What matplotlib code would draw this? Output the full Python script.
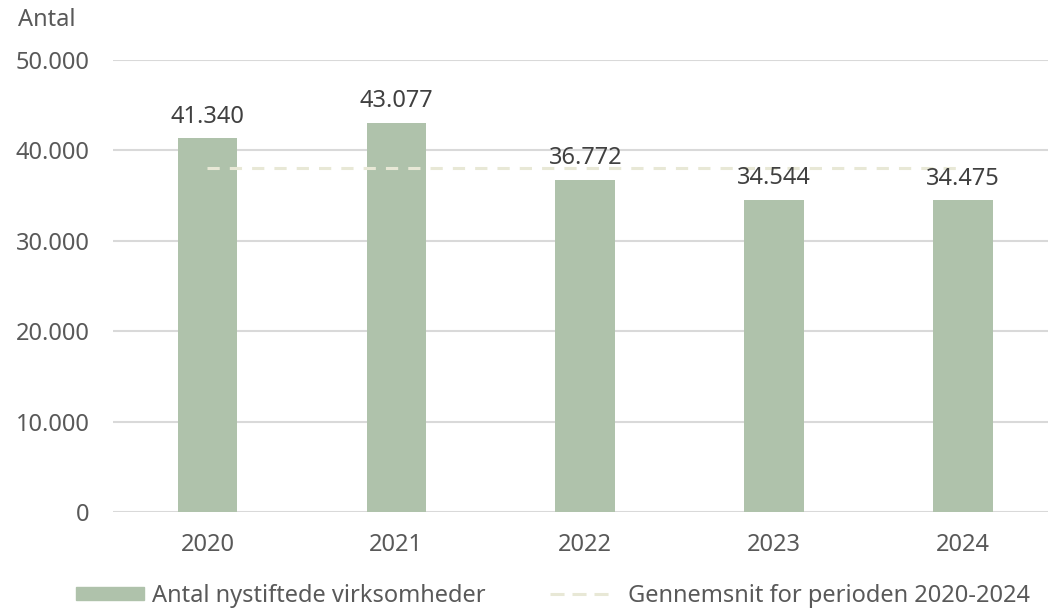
import matplotlib.pyplot as plt
from matplotlib.patches import Patch
from matplotlib.lines import Line2D

plt.rcParams['font.family'] = ['Noto Sans', 'DejaVu Sans']
plt.rcParams['font.weight'] = 'light'

# --- Data ---
years = ['2020', '2021', '2022', '2023', '2024']
counts = [41340, 43077, 36772, 34544, 34475]
average = 38041.6
yticks = [0, 10000, 20000, 30000, 40000, 50000]

BAR_COLOR = '#afc2ab'
AVG_COLOR = '#e8e8d6'
GRID_COLOR = '#d9d9d9'
TEXT_COLOR = '#595959'
LABEL_COLOR = '#404040'
FS = 17


def fmt(v):
    return f"{v:,.0f}".replace(',', '.')


fig = plt.figure(figsize=(10.48, 6.08), dpi=100)
ax = fig.add_axes([113 / 1048, (608 - 512) / 608, (1057.5 - 113) / 1048, (512 - 60) / 608])

x = list(range(len(years)))
bars = ax.bar(x, counts, width=0.315, color=BAR_COLOR, zorder=2)
ax.plot([x[0], x[-1]], [average, average], color=AVG_COLOR, lw=2.2,
        dashes=(4, 3.3), zorder=3)

for rect, v in zip(bars, counts):
    ax.annotate(fmt(v), xy=(rect.get_x() + rect.get_width() / 2, rect.get_height()),
                xytext=(0, 7), textcoords='offset points', ha='center', va='bottom',
                fontsize=FS, color=LABEL_COLOR, zorder=4)

ax.set_xlim(-0.5, 4.5)
ax.set_ylim(0, 50000)
ax.set_yticks(yticks)
ax.set_yticklabels([fmt(t) for t in yticks])
ax.set_xticks(x)
ax.set_xticklabels(years)
ax.tick_params(axis='both', length=0, labelsize=FS, labelcolor=TEXT_COLOR)
ax.tick_params(axis='y', pad=17)
ax.tick_params(axis='x', pad=15)
ax.grid(axis='y', color=GRID_COLOR, lw=1.5, zorder=0)
for s in ax.spines.values():
    s.set_visible(False)

fig.text(18 / 1048, 1 - 20 / 608, 'Antal', fontsize=FS, color=TEXT_COLOR,
         ha='left', va='center')

leg_y = 1 - 596 / 608
leg1 = fig.legend(handles=[Patch(color=BAR_COLOR, label='Antal nystiftede virksomheder')],
                  loc='center left', bbox_to_anchor=(76 / 1048, leg_y),
                  frameon=False, fontsize=FS, handlelength=2.88, handleheight=0.42,
                  handletextpad=0.34, labelcolor=TEXT_COLOR, borderaxespad=0,
                  borderpad=0)
leg2 = fig.legend(handles=[Line2D([], [], color=AVG_COLOR, lw=2.2, dashes=(4.6, 2.6),
                                  label='Gennemsnit for perioden 2020-2024')],
                  loc='center left', bbox_to_anchor=(550 / 1048, leg_y),
                  frameon=False, fontsize=FS, handlelength=2.5,
                  handletextpad=0.8, labelcolor=TEXT_COLOR, borderaxespad=0,
                  borderpad=0)

fig.savefig('out.png', dpi=100)
